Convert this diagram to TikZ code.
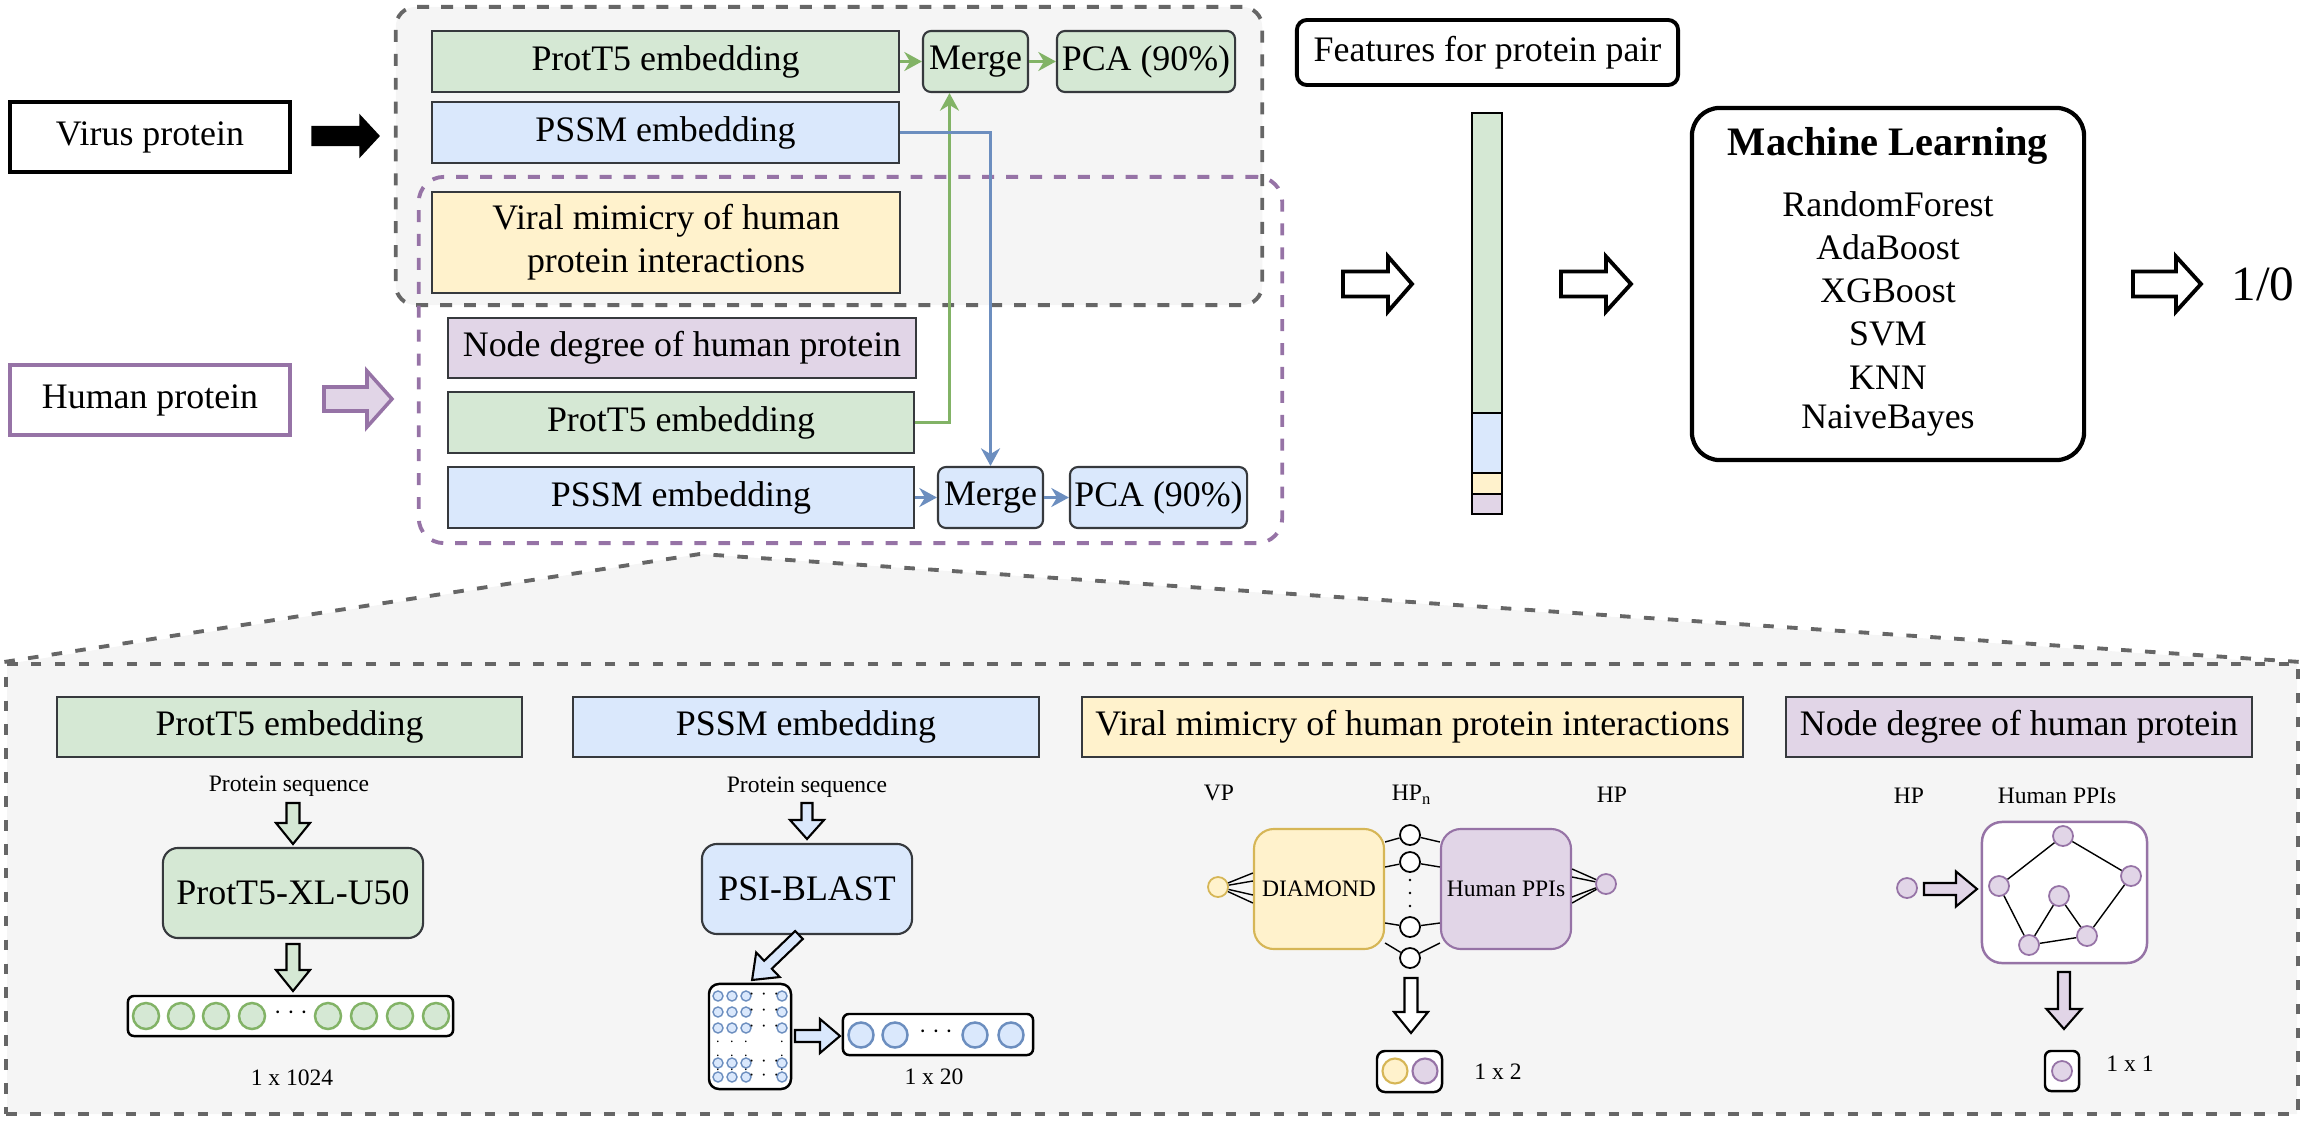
\documentclass[tikz,border=0pt]{standalone}
\usepackage{fontspec}
\setmainfont{Liberation Serif}
\usetikzlibrary{arrows.meta, calc, positioning}

\definecolor{tgreen}{HTML}{D5E8D4}
\definecolor{tgreenline}{HTML}{82B366}
\definecolor{tblue}{HTML}{DAE8FC}
\definecolor{tblueline}{HTML}{6C8EBF}
\definecolor{tyellow}{HTML}{FFF2CC}
\definecolor{tyellowline}{HTML}{D6B656}
\definecolor{tpurple}{HTML}{E1D5E7}
\definecolor{tpurpleline}{HTML}{9673A6}
\definecolor{tgray}{HTML}{F5F5F5}
\definecolor{tgrayline}{HTML}{666666}
\definecolor{tdark}{HTML}{36393D}

% hollow block arrow: style, x, y, angle, length, head length, shaft half, head half
\newcommand{\blockarrow}[8]{%
	\draw[#1, shift={(#2,#3)}, rotate=#4] (0,-#7) -- ({#5-#6},-#7) -- ({#5-#6},-#8) -- (#5,0) -- ({#5-#6},#8) -- ({#5-#6},#7) -- (0,#7) -- cycle;}

\tikzset{
	every node/.style={font=\fontsize{10.2}{12.2}\selectfont, inner sep=0pt}, % Times sized text everywhere
	smalltext/.style={font=\fontsize{6.7}{8}\selectfont}, % labels in the detail panel
	tinytext/.style={font=\fontsize{4}{5}\selectfont}, % dots in the matrix
	inbox/.style={draw, line width=1.2pt, minimum width=2.8cm, minimum height=0.7cm}, % input proteins
	featbox/.style={draw=tdark, line width=0.6pt, minimum width=4.67cm, minimum height=0.61cm}, % feature boxes
	stepbox/.style={draw=tdark, line width=0.6pt, rounded corners=0.08cm, minimum height=0.61cm}, % merge and pca
	grpgray/.style={draw=tgrayline, fill=tgray, line width=1.1pt, dash pattern=on 3.4pt off 3.4pt, rounded corners=0.2cm},
	grppurple/.style={draw=tpurpleline, line width=1.1pt, dash pattern=on 3.4pt off 3.4pt, rounded corners=0.25cm},
	gline/.style={draw=tgreenline, line width=0.9pt, -{Stealth[length=5pt, width=5.4pt]}},
	bline/.style={draw=tblueline, line width=0.9pt, -{Stealth[length=5pt, width=5.4pt]}},
	flowarrow/.style={draw=black, fill=white, line width=1.1pt},
	sarrow/.style={draw=black, line width=0.6pt},
	zoomline/.style={draw=tgrayline, line width=1.1pt, dash pattern=on 3pt off 3.8pt},
	header/.style={draw=tdark, line width=0.6pt, minimum height=0.6cm},
	toolbox/.style={draw=tdark, line width=0.6pt, rounded corners=0.15cm, minimum height=0.9cm},
	softbox/.style={smalltext, line width=0.6pt, rounded corners=0.2cm, minimum width=1.3cm, minimum height=1.2cm},
	vecbox/.style={draw=black, fill=white, line width=0.7pt, rounded corners=0.06cm},
	pcirc/.style={circle, line width=0.5pt, minimum size=0.2cm},
	ocirc/.style={circle, line width=0.6pt, minimum size=0.25cm},
	mcirc/.style={circle, draw=tblueline, fill=tblue, line width=0.4pt, minimum size=0.1cm},
	thinline/.style={draw=black, line width=0.4pt},
}

\begin{document}
\begin{tikzpicture}[x=0.01cm, y=-0.01cm]
	\useasboundingbox (0,0) rectangle (2308,1121);

	% groups of the pipeline
	\node[grpgray, minimum width=8.66cm, minimum height=2.98cm] (vgroup) at (829,156) {};
	\node[grppurple, minimum width=8.63cm, minimum height=3.66cm] (hgroup) at (850.5,360) {};

	% inputs
	\node[inbox] (virus) at (150,137) {Virus protein};
	\node[inbox, draw=tpurpleline, line width=1pt] (human) at (150,400) {Human protein};
	\blockarrow{fill=black, draw=black}{312}{136}{0}{67}{19}{9.5}{20.5}
	\blockarrow{fill=tpurple, draw=tpurpleline, line width=1pt}{324}{399}{0}{68}{25}{12}{28}

	% virus protein features
	\node[featbox, fill=tgreen] (vprot) at (665.5,61.5) {ProtT5 embedding};
	\node[featbox, fill=tblue] (vpssm) at (665.5,132.5) {PSSM embedding};
	\node[featbox, fill=tyellow, minimum height=1.01cm, align=center] (vmim) at (666,242.5) {Viral mimicry of human\\protein interactions};
	\node[stepbox, fill=tgreen, minimum width=1.05cm] (vmerge) at (975.5,61.5) {Merge};
	\node[stepbox, fill=tgreen, minimum width=1.78cm] (vpca) at (1146,61.5) {PCA (90\%)};

	% human protein features
	\node[featbox, fill=tpurple, minimum width=4.68cm, minimum height=0.6cm] (hdeg) at (682,348) {Node degree of human protein};
	\node[featbox, fill=tgreen, minimum width=4.66cm] (hprot) at (681,422.5) {ProtT5 embedding};
	\node[featbox, fill=tblue, minimum width=4.66cm] (hpssm) at (681,497.5) {PSSM embedding};
	\node[stepbox, fill=tblue, minimum width=1.05cm] (hmerge) at (990.5,497.5) {Merge};
	\node[stepbox, fill=tblue, minimum width=1.77cm] (hpca) at (1158.5,497.5) {PCA (90\%)};

	\draw[gline] (vprot) -- (vmerge);
	\draw[gline] (vmerge) -- (vpca);
	\draw[gline] (hprot.east) -| ([xshift=-0.26cm]vmerge.south);
	\draw[bline] (vpssm.east) -| (hmerge.north);
	\draw[bline] (hpssm) -- (hmerge);
	\draw[bline] (hmerge) -- (hpca);

	% feature vector of the pair
	\node[draw, line width=1.1pt, rounded corners=0.1cm, minimum width=3.81cm, minimum height=0.65cm] (pair) at (1487.5,52.5) {Features for protein pair};
	\draw[line width=0.8pt, fill=tgreen] (1472,113) rectangle (1502,413);
	\draw[line width=0.8pt, fill=tblue] (1472,413) rectangle (1502,473);
	\draw[line width=0.8pt, fill=tyellow] (1472,473) rectangle (1502,494);
	\draw[line width=0.8pt, fill=tpurple] (1472,494) rectangle (1502,514);
	\blockarrow{flowarrow}{1343}{284}{0}{69}{24}{12.5}{27.5}
	\blockarrow{flowarrow}{1561}{284}{0}{70}{25}{12.5}{27.5}

	% classifiers
	\node[draw, line width=1.2pt, rounded corners=0.28cm, minimum width=3.92cm, minimum height=3.52cm] (ml) at (1888,284) {};
	\node[font=\fontsize{11.5}{13}\selectfont\bfseries] (mltitle) at (1888,146) {Machine Learning};
	\foreach \t [count=\i] in {RandomForest,AdaBoost,XGBoost,SVM,KNN,NaiveBayes}
		\node (ml\i) at (1888,{161+43.3*\i}) {\t};
	\blockarrow{flowarrow}{2133}{284}{0}{68}{25}{12.5}{27.5}
	\node[font=\fontsize{14}{16}\selectfont] (result) at (2263,284) {1/0};

	% detail panel
	\coordinate (apex) at (700,554);
	\fill[tgray] (apex) -- (7,664) -- (7,1114) -- (2297,1114) -- (2297,664) -- cycle;
	\node[zoomline, minimum width=22.9cm, minimum height=4.5cm] (detail) at (1152,889) {};
	\draw[zoomline] (detail.north west) -- (apex) -- (detail.north east);

	\node[header, fill=tgreen, minimum width=4.65cm] (bt5) at (289.5,727) {ProtT5 embedding};
	\node[header, fill=tblue, minimum width=4.66cm] (bpssm) at (806,727) {PSSM embedding};
	\node[header, fill=tyellow, minimum width=6.61cm] (bmim) at (1412.5,727) {Viral mimicry of human protein interactions};
	\node[header, fill=tpurple, minimum width=4.66cm] (bdeg) at (2019,727) {Node degree of human protein};

	% ProtT5 column
	\node[smalltext] (seq1) at (289,786) {Protein sequence};
	\blockarrow{sarrow, fill=tgreen}{293}{803}{-90}{41}{21}{6.5}{17}
	\node[toolbox, fill=tgreen, minimum width=2.6cm] (t5) at (293,893) {ProtT5-XL-U50};
	\blockarrow{sarrow, fill=tgreen}{293}{944}{-90}{47}{21}{6.5}{17}
	\node[vecbox, minimum width=3.25cm, minimum height=0.4cm] (vec1) at (290.5,1016) {};
	\foreach \cx [count=\i] in {146,181,216,252,328,364,400,436}
		\node[circle, draw=tgreenline, fill=tgreen, line width=0.7pt, minimum size=0.26cm] (ca\i) at (\cx,1016) {};
	\node[smalltext] (dots1) at (291,1013) {$\cdots$};
	\node[smalltext] (dim1) at (292,1078) {1 x 1024};

	% PSSM column
	\node[smalltext] (seq2) at (807,787) {Protein sequence};
	\blockarrow{sarrow, fill=tblue}{807}{803}{-90}{36}{19}{5.5}{17}
	\node[toolbox, fill=tblue, minimum width=2.1cm] (blast) at (807,889) {PSI-BLAST};
	\blockarrow{sarrow, fill=tblue}{799}{935}{-136.2}{65}{22}{5.5}{17}
	\node[vecbox, rounded corners=0.1cm, minimum width=0.82cm, minimum height=1.05cm] (mat) at (750,1036.5) {};
	\foreach \cy [count=\j] in {996,1012,1028,1063,1077} {
		\foreach \cx [count=\i] in {718,732,746,782}
			\node[mcirc] (mc\j\i) at (\cx,\cy) {};
		\node[tinytext] (mh\j) at (764,\cy-1.5) {$\cdots$};
	}
	\foreach \cx [count=\i] in {718,732,746,782}
		\node[tinytext] (mv\i) at (\cx,1045) {$\vdots$};
	\blockarrow{sarrow, fill=tblue}{795}{1036}{0}{45}{20}{6}{17}
	\node[vecbox, minimum width=1.9cm, minimum height=0.41cm] (vec2) at (938,1034.5) {};
	\foreach \cx [count=\i] in {861,895,975,1011}
		\node[circle, draw=tblueline, fill=tblue, line width=0.7pt, minimum size=0.25cm] (cb\i) at (\cx,1035) {};
	\node[smalltext] (dots2) at (936,1032) {$\cdots$};
	\node[smalltext] (dim2) at (934,1077) {1 x 20};

	% viral mimicry column
	\node[smalltext] (vp) at (1219,793) {VP};
	\node[smalltext] (hpn) at (1412,795) {HP\textsubscript{n}};
	\node[smalltext] (hp) at (1612,795) {HP};
	\node[pcirc, fill=tyellow, draw=tyellowline] (vpc) at (1218,887) {};
	\node[softbox, fill=tyellow, draw=tyellowline] (dia) at (1319,889) {DIAMOND};
	\node[softbox, fill=tpurple, draw=tpurpleline] (ppi) at (1506,889) {Human PPIs};
	\node[pcirc, fill=tpurple, draw=tpurpleline] (hpc) at (1606,884) {};
	\foreach \cy [count=\i] in {835,862,927,958}
		\node[pcirc, fill=white, draw=black] (m\i) at (1410,\cy) {};
	\foreach \cy in {880,893,906}
		\fill (1410,\cy) circle (1.3);
	\foreach \d in {-16,-8,6,14}
		\draw[thinline] (vpc) -- ($(dia.west)+(0,\d)$);
	\foreach \d [count=\i] in {-47,-22,34,54} {
		\draw[thinline] ($(dia.east)+(0,\d)$) -- (m\i);
		\draw[thinline] (m\i) -- ($(ppi.west)+(0,\d)$);
	}
	\foreach \d in {-20,-12,8,14}
		\draw[thinline] ($(ppi.east)+(0,\d)$) -- (hpc);
	\blockarrow{sarrow, fill=white}{1411}{978}{-90}{55}{21}{6.5}{17}
	\node[vecbox, rounded corners=0.08cm, minimum width=0.65cm, minimum height=0.41cm] (out2) at (1409.5,1071.5) {};
	\node[ocirc, fill=tyellow, draw=tyellowline] (o2a) at (1395,1071) {};
	\node[ocirc, fill=tpurple, draw=tpurpleline] (o2b) at (1425,1071) {};
	\node[smalltext] (dim3) at (1498,1072) {1 x 2};

	% node degree column
	\node[smalltext] (hp2) at (1909,796) {HP};
	\node[smalltext] (ppil) at (2057,796) {Human PPIs};
	\node[pcirc, fill=tpurple, draw=tpurpleline] (hpd) at (1907,888) {};
	\blockarrow{sarrow, fill=tpurple}{1924}{889}{0}{53}{21}{6}{17.5}
	\node[draw=tpurpleline, fill=white, line width=0.7pt, rounded corners=0.2cm, minimum width=1.65cm, minimum height=1.41cm] (gbox) at (2064.5,892.5) {};
	\node[pcirc, fill=tpurple, draw=tpurpleline] (ga) at (2063,836) {};
	\node[pcirc, fill=tpurple, draw=tpurpleline] (gb) at (1999,886) {};
	\node[pcirc, fill=tpurple, draw=tpurpleline] (gc) at (2131,876) {};
	\node[pcirc, fill=tpurple, draw=tpurpleline] (gd) at (2059,896) {};
	\node[pcirc, fill=tpurple, draw=tpurpleline] (ge) at (2029,945) {};
	\node[pcirc, fill=tpurple, draw=tpurpleline] (gf) at (2087,936) {};
	\draw[thinline] (ga) -- (gb) (ga) -- (gc) (gb) -- (ge) (ge) -- (gd) (gd) -- (gf) (ge) -- (gf) (gf) -- (gc);
	\blockarrow{sarrow, fill=tpurple}{2064}{972}{-90}{57}{20}{6}{17.5}
	\node[vecbox, minimum width=0.34cm, minimum height=0.4cm] (out1) at (2062,1071) {};
	\node[pcirc, fill=tpurple, draw=tpurpleline] (o1) at (2062,1071) {};
	\node[smalltext] (dim4) at (2130,1064) {1 x 1};
\end{tikzpicture}
\end{document}
